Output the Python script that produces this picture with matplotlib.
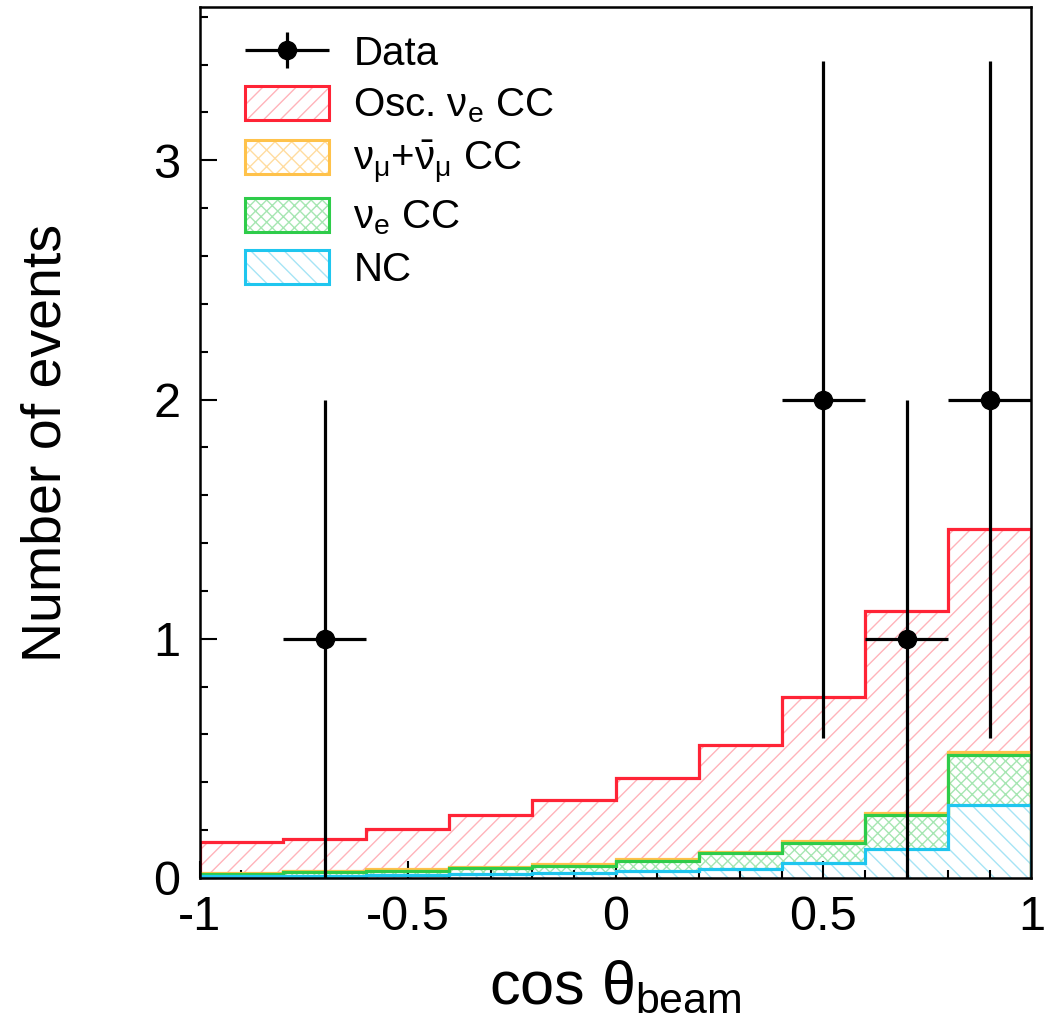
import numpy as np
import matplotlib
matplotlib.use("Agg")
import matplotlib.pyplot as plt
from matplotlib.patches import Patch
from matplotlib.ticker import MultipleLocator
from matplotlib.legend_handler import HandlerErrorbar, HandlerTuple
from matplotlib.container import ErrorbarContainer

plt.rcParams["font.family"] = ["Liberation Sans", "DejaVu Sans"]
plt.rcParams["mathtext.fontset"] = "custom"
plt.rcParams["mathtext.rm"] = "Liberation Sans"
plt.rcParams["mathtext.it"] = "Liberation Sans"
plt.rcParams["mathtext.bf"] = "Liberation Sans:bold"
plt.rcParams["hatch.linewidth"] = 1.0

# binning in cos(theta_beam)
bin_edges = [-1.0, -0.8, -0.6, -0.4, -0.2, 0.0, 0.2, 0.4, 0.6, 0.8, 1.0]

# expected events per bin, stacked bottom -> top
nc = [0.008, 0.010, 0.014, 0.018, 0.022, 0.029, 0.039, 0.064, 0.122, 0.305]
nue_cc = [0.009, 0.013, 0.017, 0.022, 0.028, 0.044, 0.065, 0.084, 0.142, 0.208]
numu_cc = [0.005, 0.006, 0.006, 0.006, 0.007, 0.006, 0.006, 0.006, 0.006, 0.014]
osc_nue_cc = [0.128, 0.136, 0.168, 0.219, 0.268, 0.341, 0.447, 0.602, 0.845, 0.933]

# observed data
data_x = [-0.7, 0.5, 0.7, 0.9]
data_y = [1, 2, 1, 2]
data_yerr = [1.0, 1.414, 1.0, 1.414]
data_xerr = [0.1, 0.1, 0.1, 0.1]

components = [
    ("NC", nc, "#1fc6ef", "#a6e4f5", "\\\\"),
    (r"$\nu_e$ CC", nue_cc, "#2ecc4a", "#a6e6b2", "xxx"),
    (r"$\nu_\mu$+$\bar{\nu}_\mu$ CC", numu_cc, "#ffc24a", "#ffdca0", "xx"),
    (r"Osc. $\nu_e$ CC", osc_nue_cc, "#ff2436", "#ffb3ba", "//"),
]


def main():
    fig = plt.figure(figsize=(10.46, 10.35), dpi=100)
    ax = fig.add_axes([0.191, 0.1517, 0.795, 0.8413])

    edges = np.array(bin_edges)
    centers = 0.5 * (edges[:-1] + edges[1:])
    widths = np.diff(edges)

    bottom = np.zeros(len(centers))
    tops = []
    handles = {}
    for label, vals, line_col, hatch_col, hatch in components:
        vals = np.array(vals)
        ax.bar(centers, vals, width=widths, bottom=bottom, facecolor="white",
               edgecolor=hatch_col, hatch=hatch, linewidth=0, zorder=1)
        bottom = bottom + vals
        tops.append((bottom.copy(), line_col))
        # light hatch inside, strong outline on top
        handles[label] = (
            Patch(facecolor="white", edgecolor=hatch_col, hatch=hatch, linewidth=0),
            Patch(facecolor="none", edgecolor=line_col, linewidth=2.2),
        )

    # outlines, top of stack first so lower ones sit on top
    for top, line_col in reversed(tops):
        ax.stairs(top, edges, baseline=0, color=line_col, linewidth=2.3, zorder=2)

    eb = ax.errorbar(data_x, data_y, yerr=data_yerr, xerr=data_xerr, fmt="o",
                     color="black", markersize=13, elinewidth=2.3, capsize=0,
                     zorder=5)

    ax.set_xlim(-1, 1)
    ax.set_ylim(0, 3.64)
    ax.xaxis.set_major_locator(MultipleLocator(0.5))
    ax.xaxis.set_minor_locator(MultipleLocator(0.1))
    ax.yaxis.set_major_locator(MultipleLocator(1))
    ax.yaxis.set_minor_locator(MultipleLocator(0.2))
    ax.set_xticks([-1, -0.5, 0, 0.5, 1])
    ax.set_xticklabels(["-1", "-0.5", "0", "0.5", "1"])
    ax.tick_params(which="both", direction="in", top=False, right=False,
                   width=1.5, labelsize=35)
    ax.tick_params(axis="x", which="major", length=12, pad=12)
    ax.tick_params(axis="y", which="major", length=12, pad=14)
    ax.tick_params(which="minor", length=6)
    for sp in ax.spines.values():
        sp.set_linewidth(1.8)

    ax.set_xlabel(r"cos $\theta_{\rm beam}$", fontsize=44, labelpad=14)
    ax.set_ylabel("Number of events", fontsize=40, labelpad=58)

    leg_handles = [eb] + [handles[c[0]] for c in reversed(components)]
    leg_labels = ["Data"] + [c[0] for c in reversed(components)]
    ax.legend(leg_handles, leg_labels, loc="upper left",
              bbox_to_anchor=(0.054, 0.969), frameon=False, fontsize=29,
              handlelength=2.1, handleheight=0.92, labelspacing=0.32,
              handletextpad=0.6, borderaxespad=0, borderpad=0,
              handler_map={ErrorbarContainer: HandlerErrorbar(xerr_size=1.05,
                                                              yerr_size=0.45),
                           tuple: HandlerTuple(ndivide=1, pad=0)})

    fig.savefig("out.png", dpi=100)


if __name__ == "__main__":
    main()
